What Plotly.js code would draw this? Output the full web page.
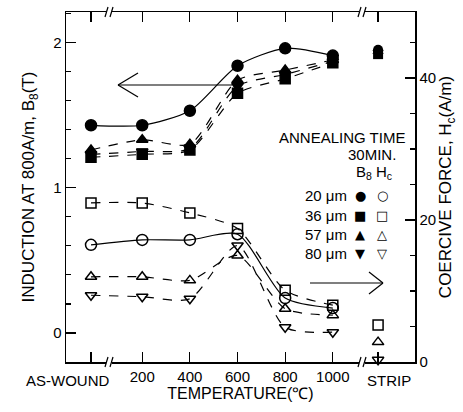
<!DOCTYPE html>
<html>
<head>
<meta charset="utf-8">
<script src="https://cdn.plot.ly/plotly-3.0.1.min.js"></script>
<style>html,body{margin:0;padding:0;background:#fff;}#chart{width:463px;height:412px;}</style>
</head>
<body>
<div id="chart"></div>
<script>
// x positions: AS-WOUND placed left of 200, STRIP placed right of 1000
const temps = [-15, 200, 400, 600, 800, 1000];
const stripX = 1190;
const tickVals = [-15, 200, 400, 600, 800, 1000, 1190];
const tickText = ['', '200', '400', '600', '800', '1000', ''];

// Induction B8 (T), left axis
const b8_20 = [1.43, 1.43, 1.53, 1.84, 1.96, 1.91];
const b8_36 = [1.21, 1.23, 1.26, 1.65, 1.75, 1.86];
const b8_57 = [1.26, 1.33, 1.30, 1.74, 1.81, 1.88];
const b8_80 = [1.23, 1.25, 1.27, 1.70, 1.78, 1.87];
const b8_strip = [1.95, 1.92, 1.94, 1.93];

// Coercive force Hc (A/m), right axis
const hc_20 = [16.5, 17.2, 17.2, 18.0, 9.0, 7.6];
const hc_36 = [22.4, 22.4, 21.0, 18.8, 10.1, 8.0];
const hc_57 = [12.0, 12.0, 11.5, 15.0, 7.5, 6.6];
const hc_80 = [9.4, 9.2, 8.9, 16.4, 4.9, 4.2];
const hc_strip36 = 5.2, hc_strip57 = 2.8, hc_strip80 = 0.3;

const K = '#000';
function series(y, sym, dash, axis, size) {
  return {
    x: temps, y: y, yaxis: axis, type: 'scatter', mode: 'lines+markers',
    line: {color: K, width: 1.2, dash: dash, shape: 'spline', smoothing: 0.7},
    marker: {symbol: sym, size: size || 10, color: K, line: {color: K, width: 1.5}},
    showlegend: false, hoverinfo: 'skip'
  };
}
const data = [
  series(b8_20, 'circle', 'solid', 'y', 11),
  series(b8_36, 'square', 'dash', 'y'),
  series(b8_57, 'triangle-up', 'dash', 'y'),
  series(b8_80, 'triangle-down', 'dash', 'y'),
  {x: [stripX, stripX, stripX, stripX], y: b8_strip, yaxis: 'y', mode: 'markers', type: 'scatter',
   marker: {symbol: ['circle', 'square', 'triangle-up', 'triangle-down'], size: 10, color: K},
   showlegend: false, hoverinfo: 'skip'},
  series(hc_20, 'circle-open', 'solid', 'y2', 11),
  series(hc_36, 'square-open', 'dash', 'y2'),
  series(hc_57, 'triangle-up-open', 'dash', 'y2'),
  series(hc_80, 'triangle-down-open', 'dash', 'y2'),
  {x: [stripX, stripX, stripX], y: [hc_strip36, hc_strip57, hc_strip80], yaxis: 'y2', mode: 'markers', type: 'scatter',
   marker: {symbol: ['square-open', 'triangle-up-open', 'triangle-down-open'], size: 10, color: K, line: {color: K, width: 1.5}},
   showlegend: false, hoverinfo: 'skip', cliponaxis: false}
];

// pixel -> paper helpers (plot area: x 66..415, y 12..362)
const L = 66, R = 415, T = 12, B = 362;
const px = v => (v - L) / (R - L);
const py = v => (B - v) / (B - T);

const shapes = [];
function seg(x0, y0, x1, y1, w) {
  shapes.push({type: 'line', xref: 'paper', yref: 'paper', x0: px(x0), y0: py(y0), x1: px(x1), y1: py(y1), line: {color: K, width: w || 1.2}});
}
// arrows
seg(118, 85, 232, 85); seg(118, 85, 138, 73); seg(118, 85, 138, 97);
seg(310, 283, 383, 283); seg(383, 283, 369, 272); seg(383, 283, 369, 294);
// axis break marks
[109, 362].forEach(xb => {
  [12, 362].forEach(yb => {
    shapes.push({type: 'rect', xref: 'paper', yref: 'paper', x0: px(xb - 3), x1: px(xb + 3), y0: py(yb + 2), y1: py(yb - 2), fillcolor: '#fff', line: {width: 0}, layer: 'above'});
    seg(xb - 4, yb + 5, xb - 1, yb - 5, 1.2);
    seg(xb + 1, yb + 5, xb + 4, yb - 5, 1.2);
  });
});

const F = 'Liberation Sans, Arial, sans-serif';
const ann = [];
function txt(x, y, t, anchor, size) {
  ann.push({xref: 'paper', yref: 'paper', x: px(x), y: py(y), text: t, showarrow: false,
    xanchor: anchor || 'center', yanchor: 'middle', font: {family: F, size: size || 15, color: K}});
}
txt(67, 380, 'AS-WOUND');
txt(389, 380, 'STRIP');
txt(407, 137, 'ANNEALING TIME', 'right');
txt(398, 154, '30MIN.', 'right');
txt(394, 172, 'B<sub>8</sub> H<sub>c</sub>', 'right');
const rows = [['20', '●', '○', 195], ['36', '■', '□', 215], ['57', '▲', '△', 234], ['80', '▼', '▽', 253]];
rows.forEach(r => {
  txt(349, r[3], r[0] + ' μm', 'right');
  ann.push({xref: 'paper', yref: 'paper', x: px(360), y: py(r[3]), text: r[1], showarrow: false, xanchor: 'center', yanchor: 'middle', font: {family: 'DejaVu Sans', size: 13, color: K}});
  ann.push({xref: 'paper', yref: 'paper', x: px(382), y: py(r[3]), text: r[2], showarrow: false, xanchor: 'center', yanchor: 'middle', font: {family: 'DejaVu Sans', size: 13, color: K}});
});

const layout = {
  width: 463, height: 412,
  margin: {l: L, r: 463 - R, t: T, b: 412 - B},
  paper_bgcolor: '#fff', plot_bgcolor: '#fff',
  font: {family: F, size: 15, color: K},
  xaxis: {
    range: [-120, 1345], tickmode: 'array', tickvals: tickVals, ticktext: tickText,
    ticks: 'inside', ticklen: 10, tickwidth: 1.2, tickcolor: K,
    showline: true, linecolor: K, linewidth: 1.5, mirror: 'ticks',
    showgrid: false, zeroline: false,
    tickfont: {family: F, size: 15, color: K},
    title: {text: 'TEMPERATURE(℃)', font: {family: F, size: 16, color: K}, standoff: 4}
  },
  yaxis: {
    range: [-0.2, 2.21], tickmode: 'array', tickvals: [0, 1, 2],
    ticks: 'inside', ticklen: 10, tickwidth: 1.2, tickcolor: K,
    minor: {tickmode: 'linear', tick0: 0, dtick: 0.2, ticks: 'inside', ticklen: 5, tickcolor: K},
    showline: true, linecolor: K, linewidth: 1.5,
    showgrid: false, zeroline: false,
    tickfont: {family: F, size: 15, color: K},
    title: {text: 'INDUCTION AT 800A/m, B<sub>8</sub>(T)', font: {family: F, size: 17, color: K}, standoff: 14}
  },
  yaxis2: {
    range: [0, 49.3], overlaying: 'y', side: 'right', tickmode: 'array', tickvals: [0, 20, 40],
    ticks: 'inside', ticklen: 10, tickwidth: 1.2, tickcolor: K,
    minor: {tickmode: 'linear', tick0: 0, dtick: 5, ticks: 'inside', ticklen: 5, tickcolor: K},
    showline: true, linecolor: K, linewidth: 1.5,
    showgrid: false, zeroline: false,
    tickfont: {family: F, size: 15, color: K},
    title: {text: 'COERCIVE FORCE, H<sub>c</sub>(A/m)', font: {family: F, size: 17, color: K}, standoff: 2}
  },
  shapes: shapes,
  annotations: ann
};
Plotly.newPlot('chart', data, layout, {staticPlot: true, displayModeBar: false});
</script>
</body>
</html>
